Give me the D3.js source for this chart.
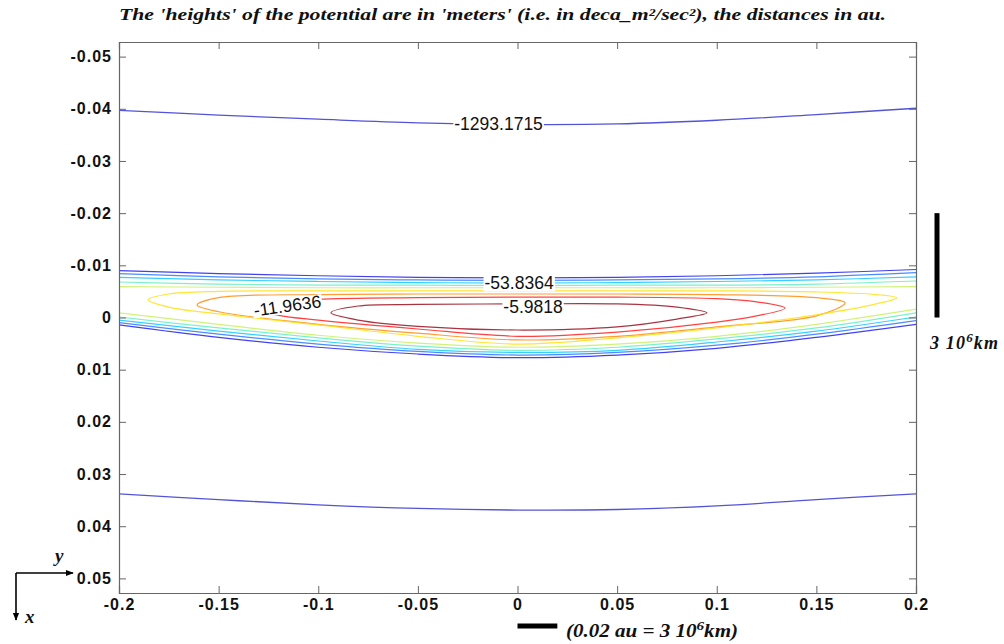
<!DOCTYPE html>
<html>
<head>
<meta charset="utf-8">
<script src="https://cdn.jsdelivr.net/npm/d3@7"></script>
<style>
  body { margin: 0; background: #fff; }
  .axis path, .axis line { stroke: #666; }
  .axis text { font-family: "Liberation Sans", Arial, sans-serif; font-size: 16px; font-weight: bold; fill: #111; letter-spacing: 1px; }
  .clabel { font-family: "Liberation Sans", Arial, sans-serif; font-size: 17.5px; fill: #111; }
  .note { font-family: "Liberation Serif", "DejaVu Serif", serif; font-style: italic; font-weight: bold; fill: #111; }
</style>
</head>
<body>
<script>
const xNodes = [-0.2, -0.15, -0.1, -0.05, 0, 0.05, 0.1, 0.15, 0.2];
const xTicks = [-0.2, -0.15, -0.1, -0.05, 0, 0.05, 0.1, 0.15, 0.2];
const yTicks = [-0.05, -0.04, -0.03, -0.02, -0.01, 0, 0.01, 0.02, 0.03, 0.04, 0.05];

// far contour, -1293.1715 (one curve above, one below)
const outerLevel = -1293.1715;
const outerTop = [-0.0397, -0.0388, -0.0380, -0.0373, -0.0370, -0.0371, -0.0378, -0.0389, -0.0401];
const outerBottom = [0.0338, 0.0349, 0.0359, 0.0366, 0.0369, 0.0368, 0.0361, 0.0349, 0.0338];

// open contours of the band (cross both side edges)
const openLevels = [-29.909, -35.8908, -41.8726, -47.8544, -53.8364];
const openUpper = [
  [-0.0059, -0.0058, -0.0057, -0.0057, -0.0057, -0.0057, -0.0057, -0.0058, -0.0059],
  [-0.0068, -0.0064, -0.0062, -0.0062, -0.0061, -0.0062, -0.0062, -0.0064, -0.0070],
  [-0.0077, -0.0072, -0.0069, -0.0067, -0.0066, -0.0067, -0.0069, -0.0072, -0.0078],
  [-0.0084, -0.0078, -0.0074, -0.0072, -0.0071, -0.0072, -0.0074, -0.0078, -0.0086],
  [-0.0090, -0.0084, -0.0080, -0.0077, -0.0076, -0.0077, -0.0080, -0.0085, -0.0092]
];
const openLower = [
  [-0.0009, 0.0013, 0.0034, 0.0049, 0.0057, 0.0051, 0.0036, 0.0013, -0.0016],
  [-0.0001, 0.0020, 0.0039, 0.0055, 0.0063, 0.0057, 0.0041, 0.0020, -0.0009],
  [0.0005, 0.0026, 0.0045, 0.0061, 0.0067, 0.0063, 0.0047, 0.0026, -0.0001],
  [0.0010, 0.0032, 0.0051, 0.0065, 0.0072, 0.0067, 0.0053, 0.0032, 0.0006],
  [0.0014, 0.0038, 0.0057, 0.0070, 0.0077, 0.0072, 0.0059, 0.0038, 0.0013]
];

// closed contours, [x, y] in au, going along the top then back along the bottom
const closedLevels = [-5.9818, -11.9636, -17.9454, -23.9272];
const closedCurves = [
  [[-0.0936, -0.0009], [-0.08, -0.0022], [-0.05, -0.0025], [0, -0.0026], [0.05, -0.0026], [0.08, -0.0020], [0.0951, -0.0009],
   [0.08, 0.0003], [0.05, 0.0018], [0, 0.0024], [-0.05, 0.0017], [-0.08, 0.0005]],
  [[-0.1310, -0.0016], [-0.12, -0.0029], [-0.1, -0.0035], [-0.05, -0.0038], [0, -0.0039], [0.05, -0.0039], [0.1, -0.0036], [0.12, -0.0030], [0.1343, -0.0018],
   [0.12, -0.0003], [0.1, 0.0009], [0.05, 0.0028], [0, 0.0036], [-0.05, 0.0022], [-0.1, 0.0005], [-0.12, -0.0004]],
  [[-0.1608, -0.0024], [-0.15, -0.0038], [-0.1, -0.0044], [-0.05, -0.0045], [0, -0.0045], [0.05, -0.0045], [0.1, -0.0044], [0.15, -0.0038], [0.1644, -0.0028],
   [0.15, -0.0003], [0.1, 0.0018], [0.05, 0.0036], [0, 0.0043], [-0.05, 0.0030], [-0.1, 0.0013], [-0.15, -0.0011]],
  [[-0.1854, -0.0034], [-0.175, -0.0045], [-0.15, -0.0050], [-0.1, -0.0051], [-0.05, -0.0051], [0, -0.0051], [0.05, -0.0051], [0.1, -0.0051], [0.15, -0.0049], [0.18, -0.0044], [0.1904, -0.0038],
   [0.18, -0.0026], [0.15, -0.0005], [0.1, 0.0020], [0.05, 0.0039], [0, 0.0051], [-0.05, 0.0036], [-0.1, 0.0014], [-0.15, -0.0007], [-0.175, -0.0020]]
];

// inline contour labels: x, y (au), rotation
const labelText = ["-1293.1715", "-53.8364", "-5.9818", "-11.9636"];
const labelX = [-0.0095, 0.0008, 0.0078, -0.1155];
const labelY = [-0.0372, -0.0066, -0.0020, -0.0023];
const labelAngle = [0, 0, 0, -8];

const width = 1004, height = 644;
const plot = {left: 119, right: 916, top: 42, bottom: 593};

const svg = d3.select('body').append('svg')
  .attr('width', width)
  .attr('height', height);

const xScale = d3.scaleLinear().domain([-0.2, 0.2]).range([plot.left, plot.right]);
const yScale = d3.scaleLinear().domain([-0.0528, 0.0528]).range([plot.top, plot.bottom]);

// jet-like colours from the highest level (dark red) to the lowest (blue)
const color = d3.scaleOrdinal()
  .domain([-5.9818, -11.9636, -17.9454, -23.9272, -29.909, -35.8908, -41.8726, -47.8544, -53.8364, -1293.1715])
  .range(["#9a1020", "#ff2020", "#ff8c10", "#ffe010", "#c8f060", "#60f0c0", "#10c8ff", "#2a78ff", "#2020f0", "#2828d0"]);

const fmt = d => String(+d.toFixed(3));

// title
svg.append('text')
  .attr('class', 'note')
  .attr('x', 119).attr('y', 20)
  .attr('font-size', 16)
  .attr('textLength', 767)
  .attr('lengthAdjust', 'spacingAndGlyphs')
  .text("The 'heights' of the potential are in 'meters' (i.e. in deca_m\u00B2/sec\u00B2), the distances in au.");

svg.append('clipPath').attr('id', 'plotclip')
  .append('rect')
  .attr('x', plot.left).attr('y', plot.top)
  .attr('width', plot.right - plot.left).attr('height', plot.bottom - plot.top);

const g = svg.append('g').attr('clip-path', 'url(#plotclip)');

const openLine = d3.line()
  .x(d => xScale(d[0]))
  .y(d => yScale(d[1]))
  .curve(d3.curveCatmullRom);

const closedLine = d3.line()
  .x(d => xScale(d[0]))
  .y(d => yScale(d[1]))
  .curve(d3.curveCatmullRomClosed);

// far level
[outerTop, outerBottom].forEach(ys => {
  g.append('path')
    .attr('d', openLine(xNodes.map((x, i) => [x, ys[i]])))
    .attr('fill', 'none')
    .attr('stroke', color(outerLevel))
    .attr('stroke-opacity', 0.8)
    .attr('stroke-width', 1.3);
});

// open band contours
openLevels.forEach((lv, k) => {
  [openUpper[k], openLower[k]].forEach(ys => {
    g.append('path')
      .attr('d', openLine(xNodes.map((x, i) => [x, ys[i]])))
      .attr('fill', 'none')
      .attr('stroke', color(lv))
      .attr('stroke-opacity', 0.85)
      .attr('stroke-width', 1.2);
  });
});

// closed contours
closedLevels.forEach((lv, k) => {
  g.append('path')
    .attr('d', closedLine(closedCurves[k]))
    .attr('fill', 'none')
    .attr('stroke', color(lv))
    .attr('stroke-opacity', 0.85)
    .attr('stroke-width', 1.2);
});

// contour labels with a white gap behind them
labelText.forEach((t, i) => {
  const lg = g.append('g')
    .attr('transform', `translate(${xScale(labelX[i])},${yScale(labelY[i])}) rotate(${labelAngle[i]})`);
  const txt = lg.append('text')
    .attr('class', 'clabel')
    .attr('text-anchor', 'middle')
    .attr('dy', '0.36em')
    .text(t);
  const bb = txt.node().getBBox();
  lg.insert('rect', 'text')
    .attr('x', bb.x - 1).attr('y', bb.y + 3)
    .attr('width', bb.width + 2).attr('height', bb.height - 5)
    .attr('fill', '#fff');
});

// axes, ticks pointing inwards on all four sides
svg.append('g')
  .attr('class', 'axis')
  .attr('transform', `translate(${plot.left},0)`)
  .call(d3.axisLeft(yScale).tickValues(yTicks).tickSize(-7).tickPadding(7).tickFormat(fmt));

svg.append('g')
  .attr('class', 'axis')
  .attr('transform', `translate(${plot.right},0)`)
  .call(d3.axisRight(yScale).tickValues(yTicks).tickSize(-7).tickFormat(''));

svg.append('g')
  .attr('class', 'axis')
  .attr('transform', `translate(0,${plot.bottom})`)
  .call(d3.axisBottom(xScale).tickValues(xTicks).tickSize(-7).tickPadding(6).tickFormat(fmt));

svg.append('g')
  .attr('class', 'axis')
  .attr('transform', `translate(0,${plot.top})`)
  .call(d3.axisTop(xScale).tickValues(xTicks).tickSize(-7).tickFormat(''));

svg.selectAll('.axis .domain').attr('stroke', '#666').attr('stroke-width', 1.2);

// scale bars: 0.02 au = 3 10^6 km
svg.append('line')
  .attr('x1', 937).attr('x2', 937)
  .attr('y1', yScale(-0.02)).attr('y2', yScale(0))
  .attr('stroke', '#000').attr('stroke-width', 5);

const rnote = svg.append('text').attr('class', 'note')
  .attr('x', 930).attr('y', 349).attr('font-size', 18)
  .attr('textLength', 68).attr('lengthAdjust', 'spacing');
rnote.append('tspan').text('3 10');
rnote.append('tspan').attr('dy', -7).attr('font-size', 13).text('6');
rnote.append('tspan').attr('dy', 7).text('km');

svg.append('line')
  .attr('x1', xScale(0)).attr('x2', xScale(0.02))
  .attr('y1', 626).attr('y2', 626)
  .attr('stroke', '#000').attr('stroke-width', 5);

const bnote = svg.append('text').attr('class', 'note')
  .attr('x', 566).attr('y', 637).attr('font-size', 18)
  .attr('textLength', 172).attr('lengthAdjust', 'spacingAndGlyphs');
bnote.append('tspan').text('(0.02 au = 3 10');
bnote.append('tspan').attr('dy', -7).attr('font-size', 13).text('6');
bnote.append('tspan').attr('dy', 7).text('km)');

// orientation arrows in the lower left corner
const defs = svg.append('defs');
defs.append('marker')
  .attr('id', 'arrow')
  .attr('viewBox', '0 0 10 10')
  .attr('refX', 9).attr('refY', 5)
  .attr('markerWidth', 8).attr('markerHeight', 8)
  .attr('markerUnits', 'userSpaceOnUse')
  .attr('orient', 'auto')
  .append('path').attr('d', 'M0,1 L10,5 L0,9 Z').attr('fill', '#000');

svg.append('line')
  .attr('x1', 16).attr('y1', 573).attr('x2', 73).attr('y2', 573)
  .attr('stroke', '#000').attr('stroke-width', 1.6)
  .attr('marker-end', 'url(#arrow)');
svg.append('line')
  .attr('x1', 16).attr('y1', 573).attr('x2', 16).attr('y2', 620)
  .attr('stroke', '#000').attr('stroke-width', 1.6)
  .attr('marker-end', 'url(#arrow)');
svg.append('text').attr('class', 'note').attr('x', 55).attr('y', 562).attr('font-size', 19).text('y');
svg.append('text').attr('class', 'note').attr('x', 25).attr('y', 623).attr('font-size', 19).text('x');
</script>
</body>
</html>
